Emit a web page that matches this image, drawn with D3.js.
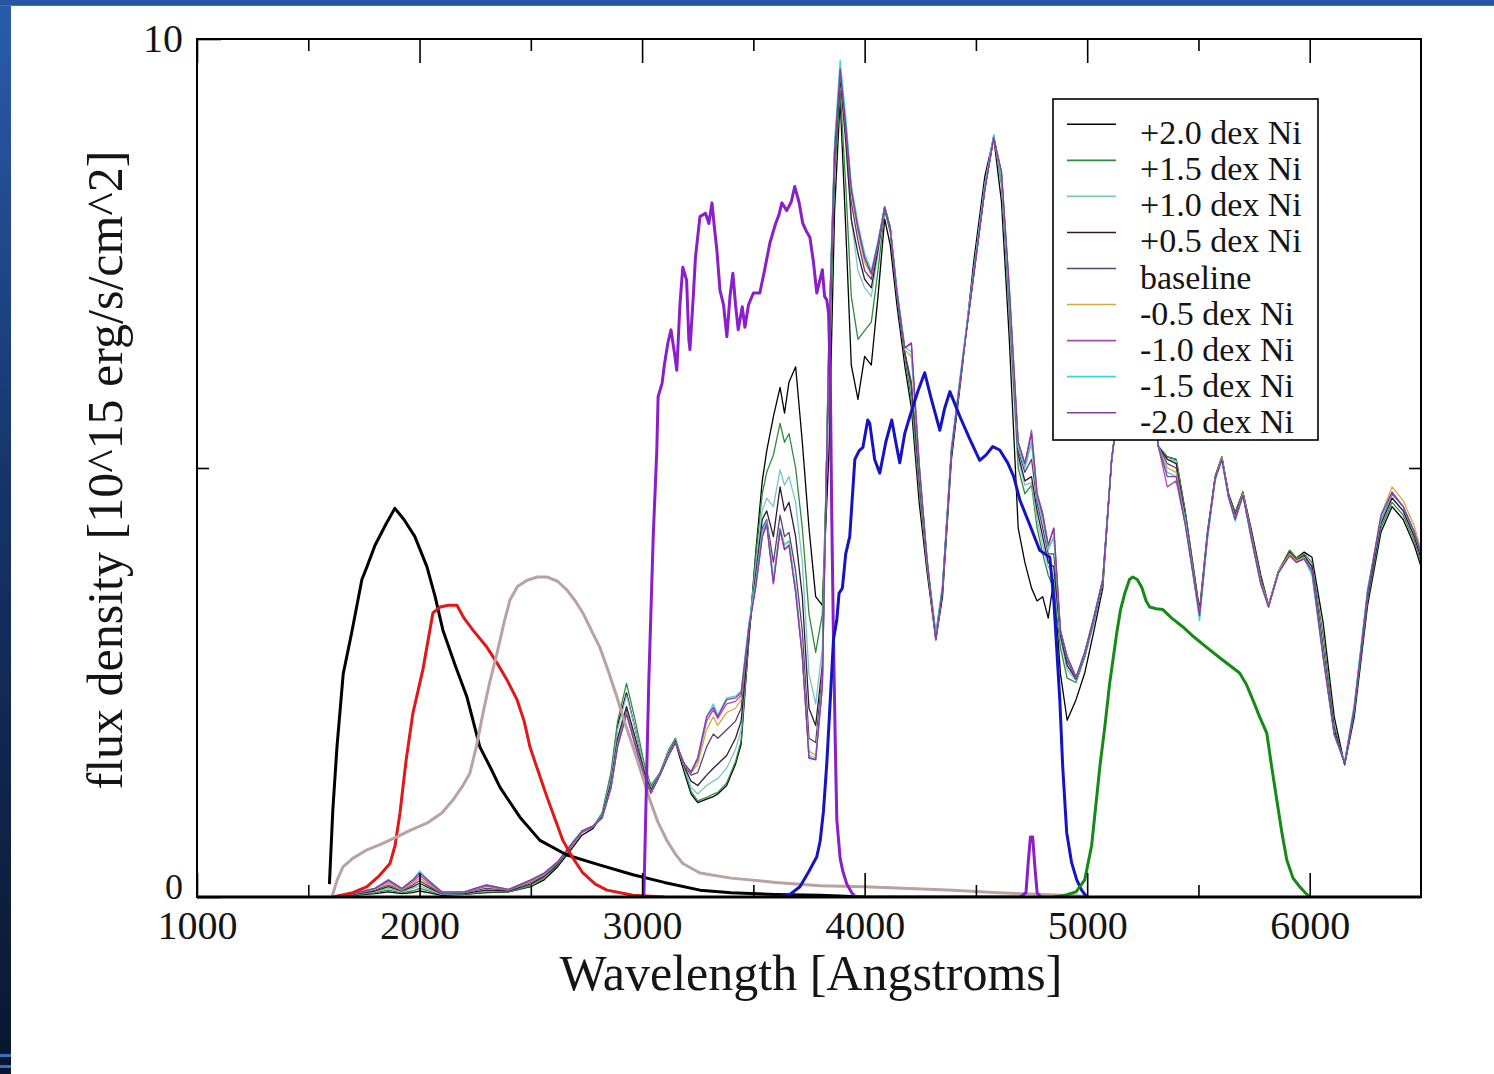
<!DOCTYPE html>
<html>
<head>
<meta charset="utf-8">
<script src="https://cdn.jsdelivr.net/npm/d3@7"></script>
<style>
  html, body { margin: 0; padding: 0; background: #fff; }
  svg { display: block; }
  text { font-family: "Liberation Serif", "Times New Roman", serif; fill: #151515; }
</style>
</head>
<body>
<div id="chart"></div>
<script>
// Common wavelength grid for the model spectra (Angstroms)
var wavelength = [
  1600,1700,1800,1860,1920,1970,2000,2040,2100,2200,
  2300,2400,2500,2560,2620,2680,2730,2780,2820,2860,
  2890,2930,2970,3010,3040,3080,3120,3150,3190,3220,
  3250,3290,3320,3340,3380,3420,3445,3480,3510,3540,
  3560,3590,3620,3640,3660,3690,3720,3750,3780,3810,
  3840,3865,3890,3915,3940,3970,4000,4030,4060,4090,
  4115,4145,4180,4210,4245,4280,4320,4350,4390,4440,
  4490,4540,4580,4615,4650,4690,4720,4750,4775,4800,
  4825,4850,4880,4910,4950,4990,5030,5070,5110,5160,
  5220,5280,5320,5360,5400,5440,5505,5540,5575,5605,
  5635,5665,5700,5740,5780,5815,5860,5910,5940,5975,
  6010,6060,6110,6157,6200,6260,6320,6370,6420,6470,
  6500
];

// Model spectra, flux density in 10^15 erg/s/cm^2
var fluxP20 = [
  0,0.02,0.04,0.06,0.04,0.05,0.07,0.05,0.02,0.03,
  0.05,0.06,0.12,0.2,0.35,0.55,0.72,0.8,0.95,1.4,
  2.0,2.38,1.95,1.5,1.28,1.42,1.68,1.8,1.45,1.2,
  1.1,1.14,1.17,1.2,1.3,1.55,1.78,3.0,4.0,4.85,
  5.2,5.6,5.94,5.64,6.0,6.18,5.3,4.3,3.5,3.4,
  5.2,8.0,9.3,7.8,6.2,5.8,6.3,6.2,7.0,7.9,
  7.6,6.9,6.2,5.7,4.6,3.8,3.0,3.5,5.1,6.2,
  7.4,8.4,8.85,8.1,6.5,4.3,3.9,3.6,3.45,3.5,
  3.25,3.7,2.6,2.06,2.3,2.62,3.1,3.6,5.1,6.1,
  6.6,6.0,5.25,5.13,5.1,4.5,3.35,4.25,4.9,5.13,
  4.7,4.48,4.72,4.25,3.75,3.4,3.8,4.04,3.95,4.02,
  3.96,3.2,2.1,1.54,2.1,3.4,4.25,4.55,4.4,4.1,
  3.85
];
var fluxP15 = [
  0,0.02,0.05,0.08,0.05,0.07,0.1,0.07,0.03,0.03,
  0.06,0.06,0.13,0.22,0.37,0.58,0.75,0.82,0.98,1.45,
  2.05,2.49,2.05,1.55,1.3,1.45,1.72,1.85,1.5,1.23,
  1.12,1.16,1.2,1.22,1.33,1.58,1.82,3.05,3.95,4.7,
  4.95,5.15,5.52,5.3,5.4,5.0,4.3,3.3,2.85,3.3,
  6.0,8.4,9.4,8.3,7.0,6.5,6.6,6.7,7.3,8.0,
  7.75,7.0,6.3,5.8,4.75,3.85,3.05,3.55,5.15,6.25,
  7.3,8.3,8.88,8.3,6.8,5.0,4.7,4.8,4.3,4.0,
  3.75,3.6,2.9,2.55,2.5,2.8,3.2,3.65,5.1,6.1,
  6.6,6.0,5.25,5.13,5.1,4.5,3.3,4.2,4.9,5.13,
  4.7,4.48,4.72,4.22,3.72,3.4,3.8,4.04,3.95,4.0,
  3.9,3.05,2.0,1.54,2.15,3.45,4.3,4.6,4.45,4.15,
  3.9
];
var fluxP10 = [
  0,0.03,0.06,0.1,0.06,0.1,0.13,0.09,0.03,0.04,
  0.07,0.07,0.14,0.23,0.38,0.6,0.76,0.82,0.96,1.38,
  1.95,2.35,1.95,1.5,1.27,1.44,1.7,1.83,1.5,1.28,
  1.2,1.3,1.35,1.38,1.5,1.72,1.95,3.05,3.85,4.5,
  4.65,4.55,4.98,4.8,4.9,4.6,3.9,2.6,2.25,2.9,
  6.3,8.6,9.6,8.9,7.9,7.3,7.1,7.0,7.5,8.04,
  7.8,7.05,6.35,5.9,4.85,3.9,3.1,3.6,5.2,6.25,
  7.25,8.25,8.85,8.35,6.9,5.1,4.8,4.83,4.4,4.1,
  3.85,3.75,3.0,2.65,2.52,2.82,3.22,3.66,5.1,6.1,
  6.6,6.0,5.25,5.1,5.08,4.45,3.3,4.2,4.88,5.12,
  4.7,4.45,4.7,4.2,3.7,3.4,3.8,4.02,3.93,3.98,
  3.85,2.95,1.95,1.55,2.2,3.5,4.35,4.65,4.5,4.2,
  3.95
];
var fluxP05 = [
  0,0.03,0.07,0.12,0.07,0.12,0.16,0.11,0.04,0.04,
  0.08,0.07,0.15,0.24,0.38,0.6,0.76,0.82,0.94,1.33,
  1.85,2.22,1.85,1.45,1.25,1.43,1.68,1.82,1.52,1.35,
  1.3,1.42,1.5,1.55,1.65,1.85,2.05,3.05,3.75,4.4,
  4.5,4.2,4.78,4.5,4.6,4.2,3.5,2.2,2.0,2.7,
  6.4,8.6,9.55,8.8,7.9,7.5,7.2,7.1,7.55,8.04,
  7.8,7.05,6.35,5.95,4.9,3.9,3.05,3.6,5.2,6.25,
  7.25,8.25,8.85,8.4,7.0,5.15,4.85,4.9,4.5,4.2,
  3.9,3.85,3.05,2.7,2.54,2.84,3.24,3.68,5.1,6.1,
  6.6,6.0,5.25,5.1,5.05,4.45,3.3,4.2,4.88,5.12,
  4.7,4.45,4.7,4.2,3.7,3.4,3.8,4.02,3.93,3.98,
  3.85,2.9,1.95,1.55,2.2,3.5,4.35,4.65,4.5,4.2,
  3.95
];
var fluxBase = [
  0,0.03,0.08,0.14,0.08,0.14,0.19,0.13,0.04,0.05,
  0.1,0.08,0.17,0.25,0.39,0.6,0.76,0.82,0.93,1.3,
  1.8,2.18,1.8,1.42,1.23,1.43,1.67,1.81,1.53,1.42,
  1.45,1.75,1.9,1.85,1.95,2.05,2.2,3.1,3.7,4.3,
  4.4,3.9,4.45,4.2,4.25,3.8,3.1,1.85,1.8,2.6,
  6.5,8.7,9.6,8.9,8.1,7.65,7.3,7.2,7.6,8.04,
  7.8,7.05,6.35,6.0,4.95,3.9,3.0,3.6,5.2,6.25,
  7.25,8.25,8.85,8.4,7.0,5.2,4.95,5.1,4.6,4.3,
  4.0,4.0,3.1,2.75,2.55,2.85,3.25,3.7,5.1,6.1,
  6.6,6.0,5.25,5.05,5.0,4.4,3.3,4.2,4.88,5.12,
  4.68,4.42,4.7,4.18,3.68,3.4,3.8,4.0,3.92,3.96,
  3.8,2.85,1.9,1.56,2.2,3.55,4.4,4.7,4.55,4.25,
  4.0
];
var fluxM05 = [
  0,0.04,0.09,0.16,0.08,0.16,0.22,0.15,0.05,0.05,
  0.12,0.08,0.18,0.26,0.4,0.6,0.76,0.82,0.92,1.28,
  1.78,2.15,1.78,1.4,1.22,1.42,1.66,1.8,1.54,1.44,
  1.55,1.95,2.1,2.0,2.15,2.2,2.3,3.15,3.65,4.25,
  4.36,3.7,4.3,4.1,4.15,3.6,2.85,1.7,1.65,2.5,
  6.6,8.7,9.65,9.0,8.2,7.75,7.4,7.25,7.6,8.04,
  7.8,7.05,6.38,6.3,5.0,3.92,3.0,3.6,5.2,6.25,
  7.25,8.25,8.85,8.4,7.05,5.25,5.0,5.3,4.65,4.4,
  4.05,4.2,3.1,2.8,2.56,2.86,3.26,3.7,5.1,6.1,
  6.6,6.0,5.25,5.0,4.95,4.4,3.3,4.2,4.88,5.12,
  4.68,4.42,4.7,4.18,3.68,3.4,3.8,4.0,3.92,3.96,
  3.8,2.85,1.9,1.56,2.2,3.55,4.45,4.78,4.62,4.32,
  4.05
];
var fluxM10 = [
  0,0.04,0.1,0.18,0.09,0.18,0.25,0.17,0.05,0.05,
  0.13,0.08,0.19,0.27,0.4,0.6,0.76,0.82,0.92,1.27,
  1.76,2.14,1.77,1.4,1.21,1.42,1.66,1.8,1.55,1.45,
  1.6,2.05,2.18,2.08,2.25,2.28,2.35,3.15,3.6,4.2,
  4.34,3.65,4.27,4.05,4.1,3.55,2.8,1.62,1.6,2.45,
  6.6,8.7,9.65,9.0,8.25,7.8,7.45,7.27,7.62,8.04,
  7.8,7.05,6.4,6.46,5.05,3.95,3.0,3.6,5.2,6.25,
  7.25,8.25,8.85,8.45,7.1,5.3,5.05,5.44,4.7,4.48,
  4.1,4.3,3.1,2.8,2.56,2.86,3.26,3.7,5.1,6.1,
  6.6,6.0,5.25,4.78,4.85,4.35,3.28,4.2,4.87,5.1,
  4.66,4.4,4.68,4.15,3.65,3.38,3.78,3.98,3.9,3.94,
  3.8,2.8,1.9,1.56,2.2,3.55,4.4,4.7,4.55,4.25,
  4.0
];
var fluxM15 = [
  0,0.04,0.1,0.2,0.1,0.2,0.3,0.2,0.06,0.06,
  0.14,0.09,0.2,0.28,0.41,0.61,0.77,0.83,0.92,1.27,
  1.76,2.14,1.76,1.39,1.21,1.42,1.66,1.8,1.55,1.46,
  1.62,2.1,2.25,2.12,2.32,2.34,2.4,3.2,3.65,4.25,
  4.38,3.7,4.3,4.1,4.15,3.6,2.8,1.65,1.62,2.5,
  6.7,8.8,9.75,9.1,8.3,7.85,7.5,7.3,7.65,8.05,
  7.82,7.1,6.42,6.35,5.05,3.95,3.05,3.65,5.25,6.3,
  7.3,8.3,8.88,8.4,7.05,5.25,5.0,5.3,4.65,4.4,
  4.05,4.2,3.1,2.8,2.56,2.86,3.26,3.7,5.1,6.1,
  6.6,6.0,5.25,4.95,4.9,4.4,3.22,4.15,4.85,5.1,
  4.66,4.38,4.68,4.15,3.65,3.38,3.78,3.98,3.9,3.94,
  3.75,2.8,1.88,1.58,2.25,3.6,4.4,4.72,4.55,4.25,
  4.0
];
var fluxM20 = [
  0,0.04,0.1,0.2,0.1,0.2,0.28,0.19,0.06,0.06,
  0.14,0.09,0.2,0.28,0.41,0.61,0.77,0.83,0.92,1.27,
  1.75,2.13,1.76,1.39,1.21,1.42,1.65,1.8,1.55,1.46,
  1.62,2.1,2.21,2.1,2.3,2.32,2.38,3.15,3.6,4.2,
  4.35,3.66,4.28,4.05,4.1,3.55,2.8,1.62,1.6,2.45,
  6.6,8.7,9.65,9.0,8.25,7.8,7.45,7.27,7.62,8.04,
  7.8,7.05,6.4,6.45,5.05,3.95,3.0,3.6,5.2,6.25,
  7.25,8.25,8.85,8.45,7.1,5.3,5.05,5.4,4.7,4.45,
  4.1,4.3,3.1,2.8,2.56,2.86,3.26,3.7,5.1,6.1,
  6.6,6.0,5.25,4.9,4.9,4.35,3.28,4.2,4.87,5.1,
  4.66,4.4,4.68,4.15,3.65,3.38,3.78,3.98,3.9,3.94,
  3.8,2.8,1.9,1.56,2.2,3.55,4.45,4.72,4.55,4.25,
  4.0
];

var seriesNames = ["+2.0 dex Ni", "+1.5 dex Ni", "+1.0 dex Ni", "+0.5 dex Ni", "baseline",
                   "-0.5 dex Ni", "-1.0 dex Ni", "-1.5 dex Ni", "-2.0 dex Ni"];
var seriesFlux = [fluxP20, fluxP15, fluxP10, fluxP05, fluxBase, fluxM05, fluxM10, fluxM15, fluxM20];
var seriesColors = ["#000000", "#2f8a3c", "#7cc4c8", "#2e1a34", "#5a4070",
                    "#d2a83a", "#b048b0", "#3ed4d8", "#8a3aa4"];

// Filter throughput curves (scaled), each with its own wavelength points
var uvw2Wave = [1595,1610,1629,1657,1695,1741,1764,1800,1850,1889,1930,1979,2033,2070,2105,2160,2213,2271,2320,2361,2451,2541,2662,2800,2959,3100,3260,3400,3600,3800,4000];
var uvw2Flux = [0.15,1.0,1.75,2.6,3.08,3.7,3.85,4.1,4.35,4.53,4.4,4.2,3.85,3.5,3.11,2.7,2.33,1.75,1.5,1.28,0.93,0.66,0.49,0.38,0.26,0.17,0.08,0.05,0.03,0.02,0.0];

var uvm2Wave = [1611,1700,1764,1820,1867,1890,1912,1940,1970,2015,2060,2092,2130,2168,2200,2240,2303,2350,2393,2438,2470,2496,2535,2572,2610,2644,2690,2734,2790,2842,2959,3100];
var uvm2Flux = [0.0,0.05,0.12,0.25,0.39,0.6,0.98,1.6,2.14,2.65,3.31,3.38,3.4,3.4,3.25,3.11,2.91,2.72,2.53,2.3,2.05,1.75,1.45,1.17,0.9,0.66,0.45,0.28,0.15,0.08,0.02,0.0];

var uvw1Wave = [1606,1630,1656,1700,1764,1830,1898,1960,2033,2100,2150,2190,2226,2255,2285,2315,2348,2380,2406,2440,2482,2530,2572,2620,2662,2700,2734,2770,2810,2850,2887,2920,2959,3000,3035,3070,3111,3150,3183,3260,3400,3600,3800,4000,4200,4400,4600,4800,5000];
var uvw1Flux = [0.0,0.2,0.35,0.45,0.55,0.62,0.7,0.78,0.86,0.98,1.13,1.28,1.44,1.75,2.14,2.5,2.84,3.2,3.46,3.62,3.69,3.73,3.73,3.68,3.58,3.45,3.31,3.12,2.91,2.62,2.33,2.05,1.75,1.42,1.13,0.88,0.66,0.5,0.39,0.28,0.22,0.17,0.13,0.12,0.1,0.08,0.05,0.03,0.01];

var uWave = [3008,3015,3030,3050,3066,3072,3090,3100,3116,3130,3145,3156,3170,3183,3200,3210,3215,3230,3240,3260,3285,3300,3314,3325,3336,3350,3366,3381,3395,3408,3420,3432,3450,3462,3478,3500,3529,3550,3574,3600,3615,3628,3650,3670,3686,3705,3722,3740,3754,3770,3785,3800,3810,3820,3830,3838,3846,3852,3860,3868,3875,3890,3902,3920,3942,3960,4700,4725,4735,4745,4755,4765,4775,4790];
var uFlux = [0.0,0.8,2.5,4.2,5.2,5.83,5.99,6.2,6.46,6.61,6.35,6.14,6.9,7.34,7.19,6.5,6.38,7.0,7.46,7.93,7.97,7.85,8.09,7.8,7.54,7.07,6.9,6.53,7.0,7.27,6.9,6.61,6.88,6.64,6.9,7.04,7.04,7.3,7.62,7.85,7.95,8.09,8.0,8.1,8.28,8.1,7.85,7.75,7.69,7.4,7.04,7.2,7.31,7.0,6.96,6.8,6.0,4.5,3.0,1.8,0.9,0.45,0.3,0.15,0.05,0.0,0.0,0.05,0.4,0.7,0.7,0.35,0.05,0.0];

var bWave = [3600,3660,3709,3750,3785,3800,3815,3830,3840,3860,3875,3885,3900,3915,3933,3956,3975,3992,4014,4023,4045,4068,4095,4122,4140,4158,4180,4203,4240,4270,4300,4338,4360,4383,4405,4428,4470,4517,4545,4576,4607,4643,4670,4697,4740,4787,4832,4850,4877,4890,4908,4930,4953,4975,4998];
var bFlux = [0.0,0.02,0.12,0.3,0.47,0.65,1.0,1.56,2.03,3.0,3.23,3.54,3.6,4.0,4.2,5.1,5.2,5.24,5.56,5.52,5.1,4.94,5.3,5.56,5.3,5.06,5.4,5.6,5.9,6.11,5.8,5.44,5.7,5.89,5.75,5.6,5.35,5.09,5.15,5.25,5.21,5.06,4.9,4.63,4.35,4.04,3.96,3.46,2.3,1.52,0.75,0.4,0.2,0.08,0.0];

var vWave = [4850,4900,4950,4989,5020,5057,5080,5101,5133,5150,5169,5190,5205,5225,5245,5265,5281,5310,5340,5380,5429,5480,5537,5600,5650,5685,5715,5744,5775,5807,5830,5852,5875,5897,5925,5955,5980,6000];
var vFlux = [0.0,0.02,0.06,0.2,0.6,1.52,2.0,2.49,3.08,3.35,3.54,3.7,3.73,3.7,3.61,3.45,3.38,3.36,3.35,3.25,3.15,3.03,2.91,2.78,2.68,2.61,2.48,2.3,2.1,1.91,1.5,1.13,0.75,0.43,0.22,0.12,0.05,0.0];

var filterWaves = [uvw2Wave, uvm2Wave, uvw1Wave, uWave, bWave, vWave];
var filterFluxes = [uvw2Flux, uvm2Flux, uvw1Flux, uFlux, bFlux, vFlux];
var filterColors = ["#000000", "#e01818", "#b8a2a2", "#8a1ec8", "#1414c4", "#168a16"];

// Axis ticks
var xMajorTicks = [1000, 2000, 3000, 4000, 5000, 6000];
var xMinorTicks = [1500, 2500, 3500, 4500, 5500];
var yMajorTicks = [0, 10];
var yMinorTicks = [5];

function drawChart() {
    var W = 1494, H = 1074;
    var left = 197, right = 1421, top = 39, bottom = 897;

    var svg = d3.select("#chart").append("svg")
        .attr("width", W)
        .attr("height", H);

    // slide frame (blue bands on left and top)
    var defs = svg.append("defs");
    var grad = defs.append("linearGradient")
        .attr("id", "leftBand")
        .attr("x1", 0).attr("y1", 0).attr("x2", 0).attr("y2", 1);
    grad.append("stop").attr("offset", "0%").attr("stop-color", "#2b5cab");
    grad.append("stop").attr("offset", "45%").attr("stop-color", "#16346a");
    grad.append("stop").attr("offset", "100%").attr("stop-color", "#0a162e");

    svg.append("rect").attr("x", 0).attr("y", 0).attr("width", W).attr("height", H).attr("fill", "#fff");
    svg.append("rect").attr("x", 0).attr("y", 0).attr("width", 11).attr("height", H).attr("fill", "url(#leftBand)");
    svg.append("rect").attr("x", 0).attr("y", 0).attr("width", W).attr("height", 6).attr("fill", "#2656a2");
    svg.append("rect").attr("x", 0).attr("y", 5).attr("width", W).attr("height", 1).attr("fill", "#3d70c0");
    svg.append("rect").attr("x", 0).attr("y", 1054).attr("width", 11).attr("height", 3).attr("fill", "#3a6cc0");
    svg.append("rect").attr("x", 0).attr("y", 1065).attr("width", 11).attr("height", 3).attr("fill", "#3a6cc0");

    var x = d3.scaleLinear().domain([1000, 6500]).range([left, right]);
    var y = d3.scaleLinear().domain([0, 10]).range([bottom, top]);

    defs.append("clipPath").attr("id", "plotClip")
        .append("rect")
        .attr("x", left).attr("y", top)
        .attr("width", right - left).attr("height", bottom - top);

    var plot = svg.append("g").attr("clip-path", "url(#plotClip)");

    // model spectra (thin lines)
    seriesFlux.forEach(function (flux, i) {
        var pts = wavelength.map(function (w, k) { return [w, flux[k]]; });
        var line = d3.line()
            .x(function (d) { return x(d[0]); })
            .y(function (d) { return y(d[1]); });
        plot.append("path")
            .datum(pts)
            .attr("fill", "none")
            .attr("stroke", seriesColors[i])
            .attr("stroke-width", 1.3)
            .attr("stroke-linejoin", "round")
            .attr("d", line);
    });

    // filter curves (thick lines)
    filterWaves.forEach(function (waves, i) {
        var pts = waves.map(function (w, k) { return [w, filterFluxes[i][k]]; });
        var line = d3.line()
            .x(function (d) { return x(d[0]); })
            .y(function (d) { return y(d[1]); });
        plot.append("path")
            .datum(pts)
            .attr("fill", "none")
            .attr("stroke", filterColors[i])
            .attr("stroke-width", 3)
            .attr("stroke-linejoin", "round")
            .attr("d", line);
    });

    // axes, ticks pointing inward
    function styleAxis(g) {
        g.select(".domain").remove();
        g.selectAll(".tick line").attr("stroke", "#000").attr("stroke-width", 1.6);
        g.selectAll(".tick text").attr("font-size", 40).attr("fill", "#151515")
            .attr("font-family", "'Liberation Serif', 'Times New Roman', serif");
    }

    svg.append("g").attr("transform", "translate(0," + bottom + ")")
        .call(d3.axisBottom(x).tickValues(xMajorTicks).tickSize(-24).tickPadding(14).tickFormat(d3.format("d")))
        .call(styleAxis);
    svg.append("g").attr("transform", "translate(0," + bottom + ")")
        .call(d3.axisBottom(x).tickValues(xMinorTicks).tickSize(-12).tickFormat(""))
        .call(styleAxis);
    svg.append("g").attr("transform", "translate(0," + top + ")")
        .call(d3.axisTop(x).tickValues(xMajorTicks).tickSize(-24).tickFormat(""))
        .call(styleAxis);
    svg.append("g").attr("transform", "translate(0," + top + ")")
        .call(d3.axisTop(x).tickValues(xMinorTicks).tickSize(-12).tickFormat(""))
        .call(styleAxis);

    var yAxisG = svg.append("g").attr("transform", "translate(" + left + ",0)")
        .call(d3.axisLeft(y).tickValues(yMajorTicks).tickSize(-24).tickPadding(14).tickFormat(d3.format("d")))
        .call(styleAxis);
    // the "0" label sits just above the "1000" label
    yAxisG.selectAll(".tick text")
        .filter(function (d) { return d === 0; })
        .attr("font-size", 36)
        .attr("dy", "0.05em");
    svg.append("g").attr("transform", "translate(" + left + ",0)")
        .call(d3.axisLeft(y).tickValues(yMinorTicks).tickSize(-12).tickFormat(""))
        .call(styleAxis);
    svg.append("g").attr("transform", "translate(" + right + ",0)")
        .call(d3.axisRight(y).tickValues(yMinorTicks).tickSize(-12).tickFormat(""))
        .call(styleAxis);

    // frame
    svg.append("rect")
        .attr("x", left).attr("y", top)
        .attr("width", right - left).attr("height", bottom - top)
        .attr("fill", "none").attr("stroke", "#000").attr("stroke-width", 2);
    svg.append("line")
        .attr("x1", left).attr("x2", right).attr("y1", bottom).attr("y2", bottom)
        .attr("stroke", "#000").attr("stroke-width", 3);

    // axis titles
    svg.append("text")
        .attr("x", (left + right) / 2 + 2)
        .attr("y", 990)
        .attr("text-anchor", "middle")
        .attr("font-size", 50)
        .text("Wavelength [Angstroms]");
    svg.append("text")
        .attr("transform", "translate(122," + 470 + ") rotate(-90)")
        .attr("text-anchor", "middle")
        .attr("font-size", 50)
        .text("flux density [10^15 erg/s/cm^2]");

    // legend
    var lg = svg.append("g");
    lg.append("rect")
        .attr("x", 1053).attr("y", 99).attr("width", 265).attr("height", 341)
        .attr("fill", "#fff").attr("stroke", "#000").attr("stroke-width", 1.6);
    seriesNames.forEach(function (name, i) {
        var ly = 124.3 + i * 36.05;
        lg.append("line")
            .attr("x1", 1067).attr("x2", 1116).attr("y1", ly).attr("y2", ly)
            .attr("stroke", seriesColors[i]).attr("stroke-width", 1.6);
        lg.append("text")
            .attr("x", 1140).attr("y", ly + 20)
            .attr("font-size", 34)
            .text(name);
    });
}

drawChart();
</script>
</body>
</html>
